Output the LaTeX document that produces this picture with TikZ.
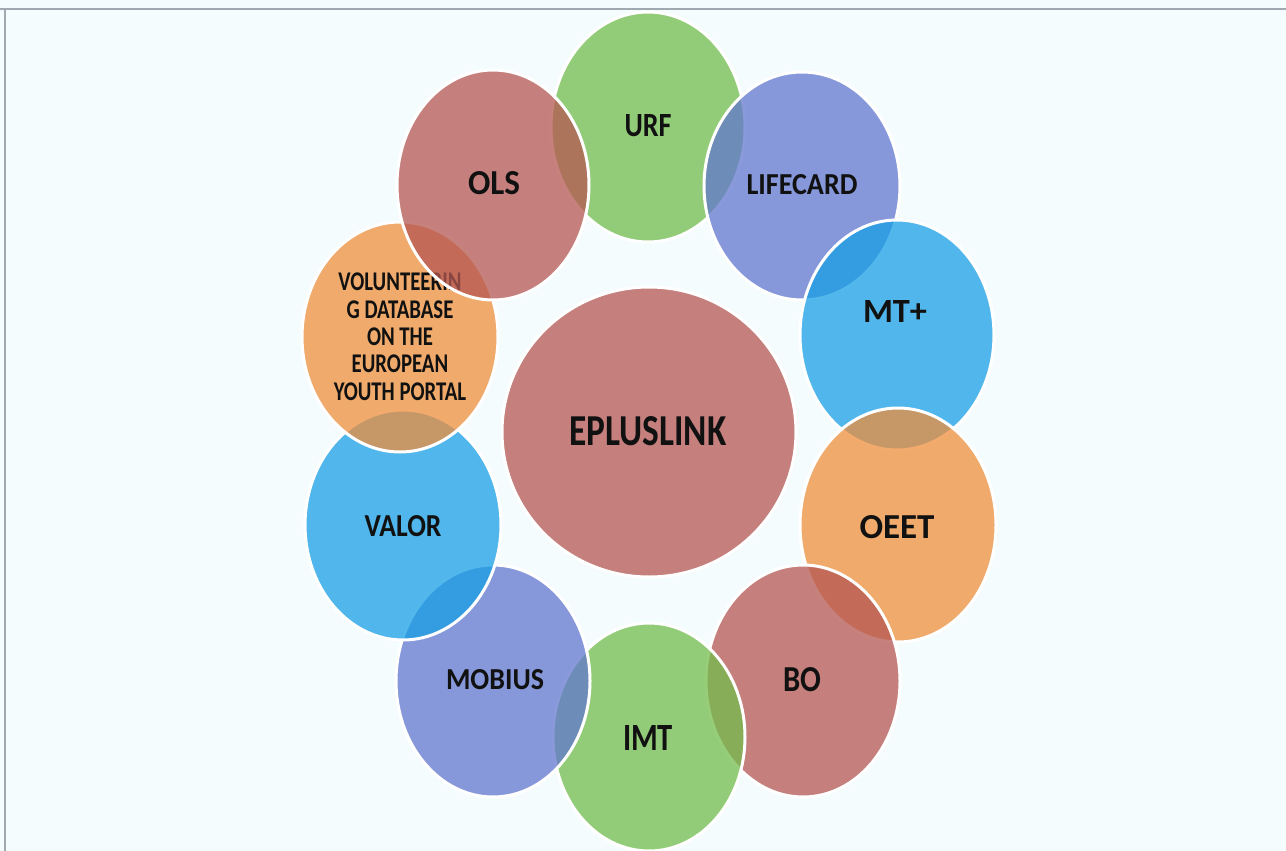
\documentclass[tikz,border=0pt]{standalone}
\usepackage{fontspec}
\setmainfont{Carlito}
\usetikzlibrary{shapes.geometric}
\definecolor{bgc}{RGB}{245,252,254}
\definecolor{rose}{RGB}{181,87,82}
\definecolor{leaf}{RGB}{115,189,76}
\definecolor{iris}{RGB}{98,119,206}
\definecolor{sky}{RGB}{25,159,229}
\definecolor{amber}{RGB}{238,143,60}
\definecolor{framec}{RGB}{160,168,176}
\definecolor{inkc}{RGB}{17,17,17}
\newcommand{\fitlbl}[3]{\resizebox{#1pt}{#2pt}{#3}}
\begin{document}
\begin{tikzpicture}[x=1pt,y=-1pt,
  bub/.style={ellipse, draw=white, line width=3pt, fill opacity=0.75, inner sep=0pt,
              minimum width=194pt, minimum height=230pt},
  lbl/.style={inner sep=0pt, text=inkc, font=\fontsize{30}{30}\selectfont\bfseries}]
\useasboundingbox (0,0) rectangle (1286,851);
\fill[bgc] (0,0) rectangle (1286,851);
\draw[framec, line width=2pt] (0,9) -- (1286,9);
\draw[framec, line width=2pt] (5,9) -- (5,851);

% outer ring, drawn clockwise from the top
\node[bub, fill=leaf] (urf) at (648,127) {};
\node[lbl] (urft) at (648,126) {\fitlbl{47}{22}{URF}};

\node[bub, fill=iris, minimum width=196pt, minimum height=228pt] (life) at (802,186) {};
\node[lbl] (lifet) at (802,185) {\fitlbl{111}{20}{LIFECARD}};

\node[bub, fill=sky] (mt) at (897,335) {};
\node[lbl] (mtt) at (895,311) {\fitlbl{64}{22}{MT+}};

\node[bub, fill=amber, minimum width=196pt, minimum height=234pt] (oeet) at (898,525) {};
\node[lbl] (oeett) at (897,527) {\fitlbl{75}{23}{OEET}};

\node[bub, fill=rose, minimum height=232pt] (bo) at (803,681) {};
\node[lbl] (bot) at (802,680) {\fitlbl{38}{24}{BO}};

\node[bub, fill=leaf, minimum width=192pt, minimum height=228pt] (imt) at (649,737) {};
\node[lbl] (imtt) at (648,738) {\fitlbl{50}{25}{IMT}};

\node[bub, fill=iris, minimum height=232pt] (mob) at (493,681) {};
\node[lbl] (mobt) at (495,680) {\fitlbl{98}{20}{MOBIUS}};

\node[bub, fill=sky, minimum width=196pt] (valor) at (403,525) {};
\node[lbl] (valort) at (403,526) {\fitlbl{77}{21}{VALOR}};

\node[bub, fill=amber, minimum width=196pt] (vol) at (400,337) {};
\node[lbl, font=\fontsize{27}{27.3}\selectfont\bfseries] (volt) at (400,340)
  {\scalebox{0.77}[1]{\begin{tabular}{@{}c@{}}VOLUNTEERIN\\G DATABASE\\ON THE\\EUROPEAN\\YOUTH PORTAL\end{tabular}}};

\node[bub, fill=rose, minimum width=192pt] (ols) at (493,185) {};
\node[lbl] (olst) at (494,183) {\fitlbl{52}{23}{OLS}};

% centre
\node[bub, fill=rose, minimum width=294pt, minimum height=290pt] (eplus) at (649,432) {};
\node[lbl] (eplust) at (648,431) {\fitlbl{157}{29}{EPLUSLINK}};
\end{tikzpicture}
\end{document}
